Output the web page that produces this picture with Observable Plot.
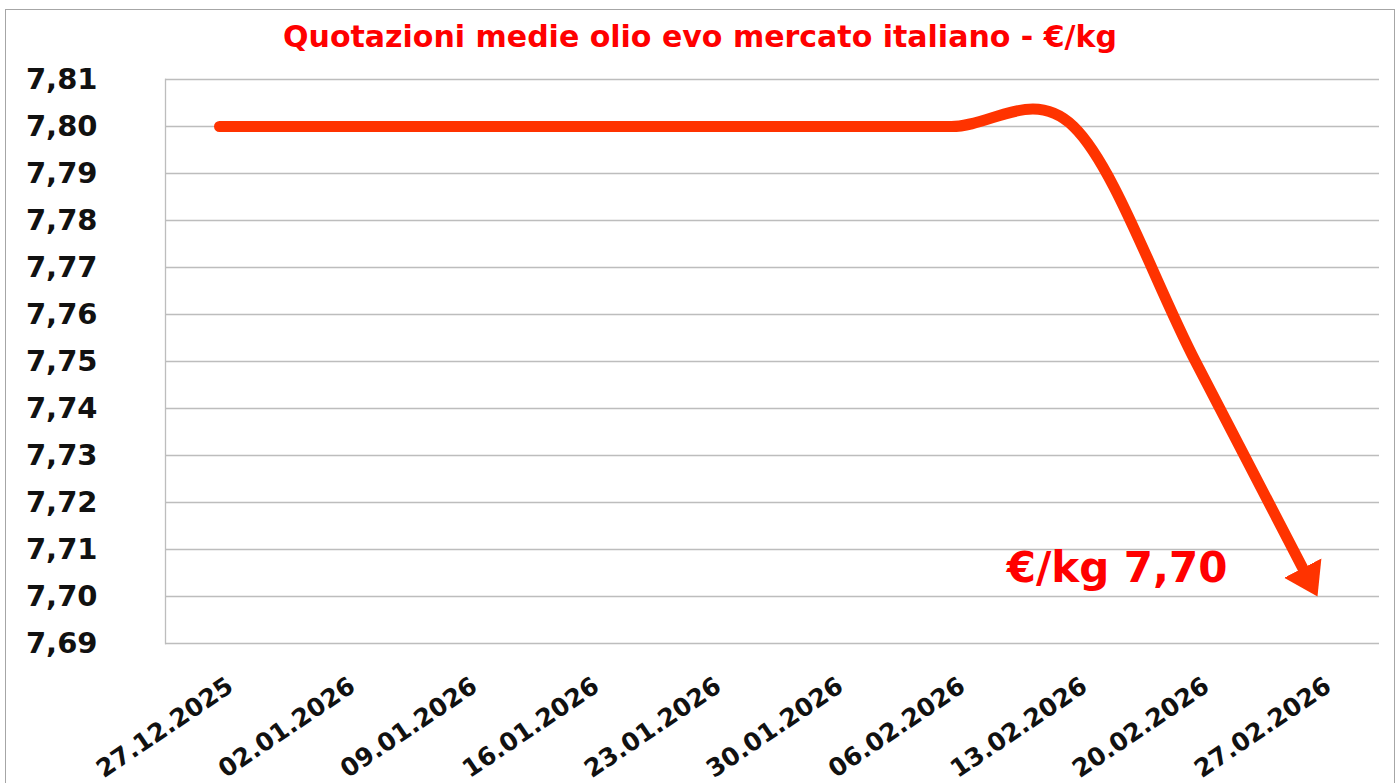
<!DOCTYPE html>
<html>
<head>
<meta charset="utf-8">
<script src="https://cdn.jsdelivr.net/npm/d3@7"></script>
<script src="https://cdn.jsdelivr.net/npm/@observablehq/plot@0.6"></script>
<style>
  html, body { margin: 0; padding: 0; background: #fff; }
  #wrap { position: relative; width: 1400px; height: 783px; overflow: hidden; font-family: "DejaVu Sans", Verdana, sans-serif; }
  #title { height: 60px; box-sizing: border-box; padding-top: 22px; line-height: 30px; text-align: center;
           font-size: 30px; font-weight: bold; color: #f00; white-space: nowrap; }
  #border { position: absolute; left: 5px; top: 9px; width: 1390px; height: 800px; box-sizing: border-box;
            border: 1.5px solid #a6a6a6; pointer-events: none; }
</style>
</head>
<body>
<div id="wrap">
  <div id="border"></div>
  <div id="title"></div>
  <div id="chart"></div>
</div>
<script>
const titleText = "Quotazioni medie olio evo mercato italiano - €/kg";
const dates = ["27.12.2025", "02.01.2026", "09.01.2026", "16.01.2026", "23.01.2026",
               "30.01.2026", "06.02.2026", "13.02.2026", "20.02.2026", "27.02.2026"];
const prices = [7.80, 7.80, 7.80, 7.80, 7.80, 7.80, 7.80, 7.80, 7.75, 7.70];
const yTicks = [7.69, 7.70, 7.71, 7.72, 7.73, 7.74, 7.75, 7.76, 7.77, 7.78, 7.79, 7.80, 7.81];
const annotationText = ["€/kg 7,70"];
const annotationDate = ["20.02.2026"];
const annotationValue = [7.706];

document.getElementById("title").textContent = titleText;

const data = dates.map((d, i) => ({date: d, value: prices[i]}));
const notes = annotationText.map((t, i) => ({text: t, date: annotationDate[i], value: annotationValue[i]}));
const fmt = v => v.toFixed(2).replace(".", ",");
const lineColor = "#ff3300";

const chart = Plot.plot({
  width: 1400,
  height: 723,
  marginTop: 19,
  marginBottom: 140,
  marginLeft: 165,
  marginRight: 21,
  style: {fontFamily: "DejaVu Sans, Verdana, sans-serif", background: "transparent", overflow: "visible"},
  x: {type: "point", domain: dates, padding: 0.467, align: 0.465, label: null},
  y: {domain: [7.69, 7.81], label: null},
  marks: [
    Plot.gridY(yTicks, {stroke: "#bdbdbd", strokeOpacity: 1, strokeWidth: 1.3}),
    Plot.frame({anchor: "left", stroke: "#bdbdbd", strokeWidth: 1.3}),
    Plot.axisY({ticks: yTicks, tickSize: 0, tickPadding: 68, tickFormat: fmt,
                fontSize: 29, fontWeight: "bold", fill: "#111"}),
    Plot.axisX({tickSize: 0, tickPadding: 40, dx: 11, tickRotate: -34,
                fontSize: 25, fontWeight: "bold", fill: "#111"}),
    Plot.line(data, {x: "date", y: "value", stroke: lineColor, strokeWidth: 11, curve: "cardinal"}),
    Plot.text(notes, {x: "date", y: "value", text: "text", textAnchor: "end", dx: 32,
                      fontSize: 42, fontWeight: "bold", fill: "#f00"})
  ]
});
document.getElementById("chart").appendChild(chart);

// arrowhead at the end of the line
const svg = d3.select(chart.tagName.toLowerCase() === "svg" ? chart : chart.querySelector("svg"));
const defs = svg.append("defs");
defs.append("marker")
  .attr("id", "arrowhead")
  .attr("markerUnits", "userSpaceOnUse")
  .attr("markerWidth", 34)
  .attr("markerHeight", 44)
  .attr("viewBox", "0 -22 34 44")
  .attr("refX", 32)
  .attr("refY", 0)
  .attr("orient", "auto")
  .append("path")
  .attr("d", "M0,-21L32,0L0,21Z")
  .attr("fill", lineColor);
const linePath = svg.select('g[aria-label="line"] path');
if (!linePath.empty()) {
  const node = linePath.node();
  const L = node.getTotalLength();
  linePath.attr("stroke-dasharray", `${L - 18} ${L}`).attr("marker-end", "url(#arrowhead)");
}
</script>
</body>
</html>
